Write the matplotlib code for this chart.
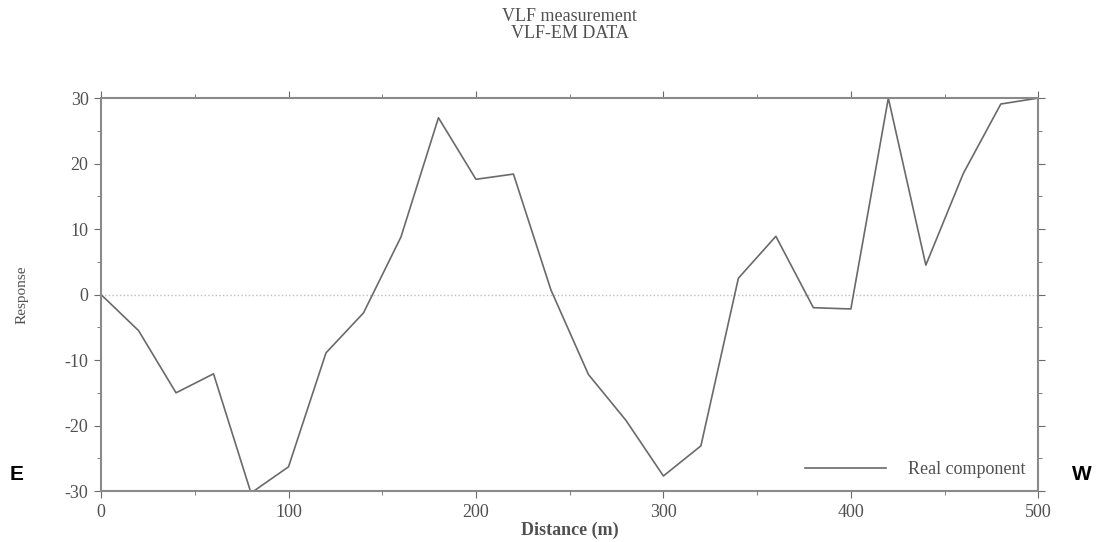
import numpy as np
import matplotlib.pyplot as plt
from matplotlib.ticker import MultipleLocator

# Профиль VLF-EM, шаг 20 м
distance = np.arange(0, 520, 20)
real_component = [0, -5.5, -15, -12.1, -30.3, -26.3, -8.9, -2.8, 8.8, 27.0,
                  17.6, 18.4, 0.7, -12.2, -19.2, -27.7, -23.1, 2.5, 8.9, -2.0,
                  -2.2, 30.0, 4.5, 18.5, 29.1, 30.0]

plt.rcParams['font.family'] = ['Liberation Serif', 'DejaVu Serif']
plt.rcParams['axes.unicode_minus'] = False

fig = plt.figure(figsize=(11.02, 5.42), dpi=100)
ax = fig.add_axes([0.0917, 0.094, 0.8505, 0.725])

line_color = '#6a6a6a'
text_color = '#505050'
ax.axhline(0, color='#bdbdbd', linestyle=':', linewidth=1)
ax.plot(distance, real_component, color=line_color, linewidth=1.2,
        label='Real component')

ax.set_xlim(0, 500)
ax.set_ylim(-30, 30)
ax.xaxis.set_major_locator(MultipleLocator(100))
ax.xaxis.set_minor_locator(MultipleLocator(50))
ax.yaxis.set_major_locator(MultipleLocator(10))
ax.yaxis.set_minor_locator(MultipleLocator(5))
ax.tick_params(which='both', direction='out', top=True, right=True,
               color=line_color, labelsize=13, labelcolor=text_color)
ax.tick_params(which='major', length=5, pad=4)
ax.tick_params(which='minor', length=3)
for s in ax.spines.values():
    s.set_color('#8a8a8a')
    s.set_linewidth(1.5)

ax.set_xlabel('Distance (m)', fontsize=13, fontweight='bold', color=text_color,
              labelpad=1)
ax.set_ylabel('Response', fontsize=11, color=text_color, labelpad=26)
ax.set_title('VLF measurement\nVLF-EM DATA', fontsize=13, color=text_color,
             linespacing=1.0, pad=43)

ax.legend(loc='lower right', frameon=False, fontsize=13, handlelength=4.5,
          labelcolor=text_color, borderaxespad=0.3, handletextpad=1.2)

# Направление профиля
fig.text(0.009, 0.115, 'E', fontsize=15, fontweight='bold',
         family=['Liberation Sans', 'DejaVu Sans'])
fig.text(0.973, 0.115, 'W', fontsize=15, fontweight='bold',
         family=['Liberation Sans', 'DejaVu Sans'])

fig.savefig('out.png', dpi=100)
